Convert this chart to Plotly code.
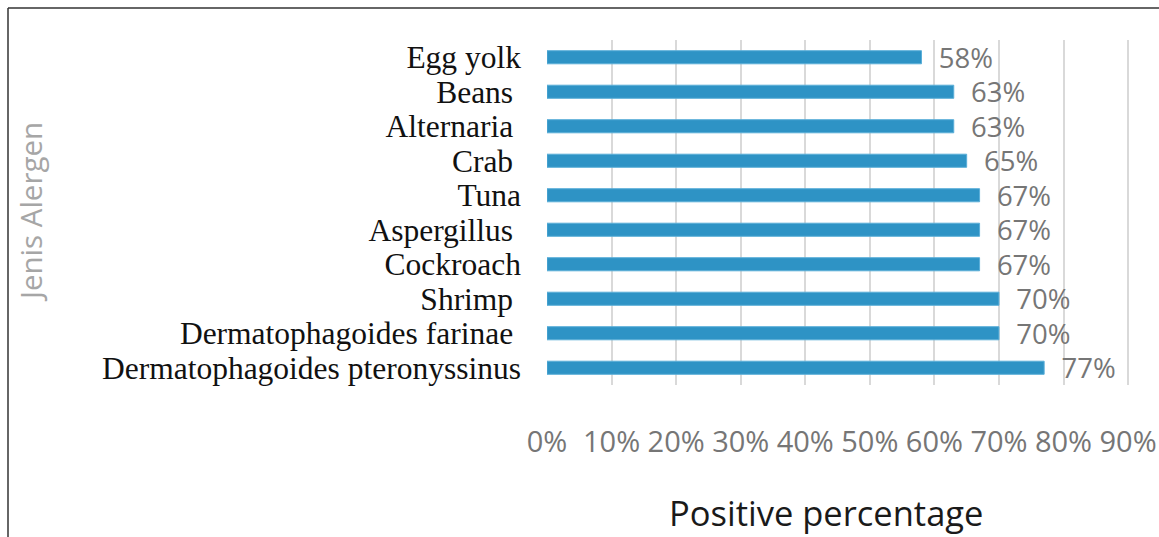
import plotly.graph_objects as go

categories = ["Egg yolk", "Beans", "Alternaria", "Crab", "Tuna", "Aspergillus",
              "Cockroach", "Shrimp", "Dermatophagoides farinae",
              "Dermatophagoides pteronyssinus"]
values = [58, 63, 63, 65, 67, 67, 67, 70, 70, 77]
trailing_space = [False, True, True, True, False, True, False, True, True, False]
x_ticks = [0, 10, 20, 30, 40, 50, 60, 70, 80, 90]
x_ticklabels = [f"{v}%" for v in x_ticks]

ticktext = [c + ("\u00a0" if s else "") for c, s in zip(categories, trailing_space)]

W, H = 1159, 537
L, R, T, B = 547, 18, 40, 152
pw, ph = W - L - R, H - T - B

fig = go.Figure()
fig.add_trace(go.Bar(
    y=categories, x=values, orientation="h",
    marker=dict(color="#2e93c5", line=dict(color="#5aaed8", width=1)),
    width=0.38,
    text=[f"\u00a0\u00a0{v}%" for v in values],
    textposition="outside",
    constraintext="none",
    textfont=dict(family="Open Sans", size=27.5, color="#767676"),
    cliponaxis=False,
    hoverinfo="skip",
))

fig.update_layout(
    width=W, height=H,
    margin=dict(l=L, r=R, t=T, b=B, autoexpand=False),
    paper_bgcolor="white", plot_bgcolor="white",
    showlegend=False,
    xaxis=dict(
        range=[0, 92], tickvals=x_ticks, ticktext=x_ticklabels,
        showgrid=True, gridcolor="#d9d9d9", gridwidth=1.5,
        zeroline=False, showline=False, ticks="",
        tickfont=dict(family="Open Sans", size=29, color="#767676"),
        ticklabelstandoff=37,
    ),
    yaxis=dict(
        categoryorder="array", categoryarray=categories[::-1],
        tickvals=categories, ticktext=ticktext,
        showgrid=False, zeroline=False, showline=False, ticks="",
        tickfont=dict(family="Liberation Serif", size=31.5, color="#111111"),
        ticklabelstandoff=25,
    ),
    annotations=[
        dict(text="Positive percentage", xref="paper", yref="paper",
             x=(826 - L) / pw, y=(T + ph - 512) / ph, xanchor="center", yanchor="middle",
             showarrow=False, font=dict(family="Open Sans", size=34.5, color="#1a1a1a")),
        dict(text="Jenis Alergen", xref="paper", yref="paper",
             x=(30 - L) / pw, y=(T + ph - 212) / ph, xanchor="center", yanchor="middle",
             textangle=-90, showarrow=False,
             font=dict(family="Open Sans", size=29.5, color="#a6a6a6")),
    ],
    shapes=[
        dict(type="line", xref="paper", yref="paper",
             x0=(8 - L) / pw, x1=(W + 5 - L) / pw,
             y0=(T + ph - 8) / ph, y1=(T + ph - 8) / ph,
             line=dict(color="#333333", width=1.5)),
        dict(type="line", xref="paper", yref="paper",
             x0=(8 - L) / pw, x1=(8 - L) / pw,
             y0=(T + ph - 8) / ph, y1=(T + ph - H - 5) / ph,
             line=dict(color="#333333", width=1.5)),
    ],
)

fig.write_html("out.html")
